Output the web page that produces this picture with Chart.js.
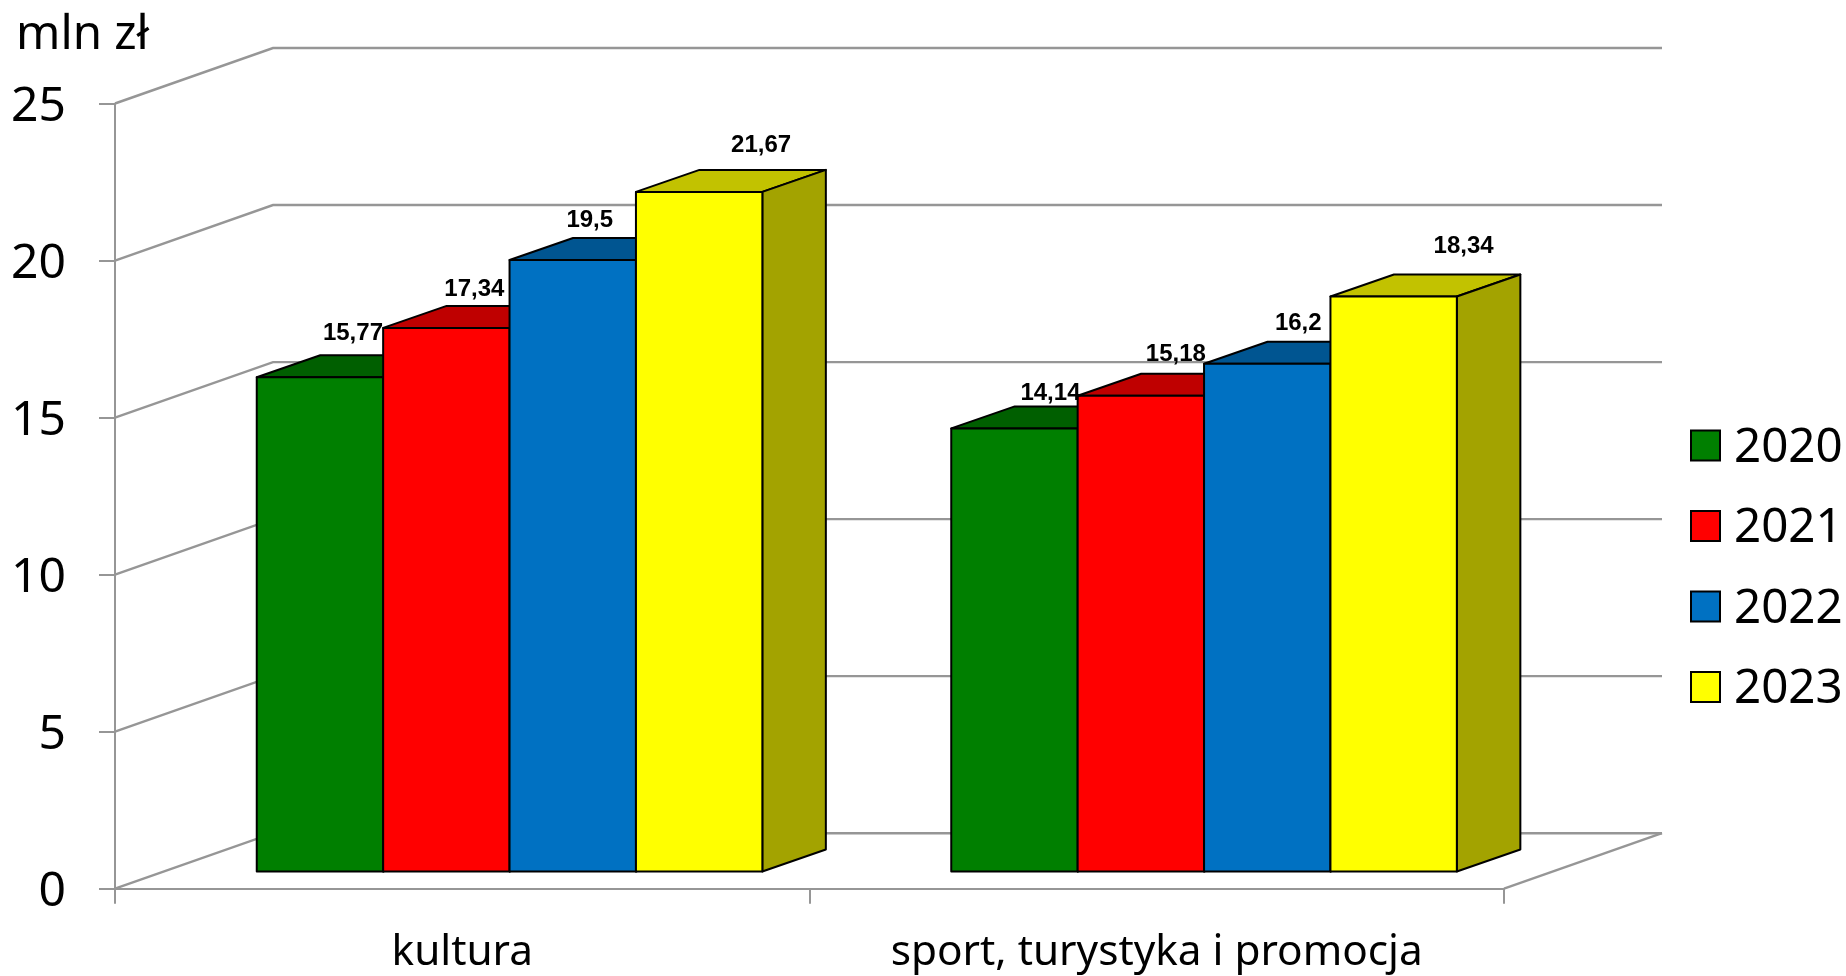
<!DOCTYPE html>
<html><head><meta charset="utf-8">
<style>html,body{margin:0;padding:0;background:#fff}canvas{display:block}</style>
<script src="https://cdn.jsdelivr.net/npm/chart.js@4"></script>
</head><body>
<canvas id="c" width="1846" height="976"></canvas>
<script>
const categories = ["kultura", "sport, turystyka i promocja"];
const years = ["2020", "2021", "2022", "2023"];
const values2020 = [15.77, 14.14];
const values2021 = [17.34, 15.18];
const values2022 = [19.5, 16.2];
const values2023 = [21.67, 18.34];
const unitLabel = "mln zł";

const frontColors = ["#007f00", "#ff0000", "#0071c2", "#ffff00"];
const topColors = ["#005f00", "#bf0000", "#005591", "#c2c200"];
const sideColors = ["#005000", "#a30000", "#004880", "#a3a300"];
// label offset from the bar's front-top centre, in pixels
const labelNudge = [
  [[33, -37], [36, -28]],
  [[28, -32], [35, -35]],
  [[17, -33], [31, -34]],
  [[62, -40], [70, -43]]
];

const GRID = "#969696";
const FONT = '"Noto Sans"';
const WALL = {dx: 158, dy: 55.5};      // depth of the whole floor
const BAR = {dx: 63.5, dy: 22};        // depth of one bar
const SHIFT = {x: 47.3, y: 16.2};      // bars stand in from the front edge of the floor

function poly(ctx, pts, fill) {
  ctx.beginPath();
  pts.forEach((p, i) => i ? ctx.lineTo(p[0], p[1]) : ctx.moveTo(p[0], p[1]));
  ctx.closePath();
  ctx.fillStyle = fill;
  ctx.fill();
  ctx.stroke();
}

const chart3d = {
  id: "chart3d",
  beforeDatasetsDraw(chart) {
    const {ctx, scales: {x, y}} = chart;
    // walls
    ctx.save();
    ctx.strokeStyle = GRID;
    ctx.lineWidth = 2.4;
    y.ticks.forEach(t => {
      const py = y.getPixelForValue(t.value);
      ctx.beginPath();
      ctx.moveTo(x.left, py);
      ctx.lineTo(x.left + WALL.dx, py - WALL.dy);
      ctx.lineTo(x.right + WALL.dx, py - WALL.dy);
      ctx.stroke();
    });
    ctx.beginPath();
    ctx.moveTo(x.right, y.bottom);
    ctx.lineTo(x.right + WALL.dx, y.bottom - WALL.dy);
    ctx.stroke();
    ctx.restore();
    // bars, left to right so each front covers its neighbour's depth
    ctx.save();
    ctx.translate(SHIFT.x, -SHIFT.y);
    ctx.lineJoin = "round";
    chart.data.datasets.forEach((ds, i) => {
      chart.getDatasetMeta(i).data.forEach(el => {
        const l = el.x - el.width / 2, r = el.x + el.width / 2, t = el.y, b = el.base;
        ctx.strokeStyle = "#000";
        ctx.lineWidth = 2;
        poly(ctx, [[l, t], [r, t], [r + BAR.dx, t - BAR.dy], [l + BAR.dx, t - BAR.dy]], topColors[i]);
        poly(ctx, [[r, t], [r + BAR.dx, t - BAR.dy], [r + BAR.dx, b - BAR.dy], [r, b]], sideColors[i]);
        el.draw(ctx);
        ctx.strokeRect(l, t, r - l, b - t);
      });
    });
    ctx.restore();
    return false;
  },
  afterDraw(chart) {
    const {ctx} = chart;
    ctx.save();
    // value labels
    ctx.font = 'bold 24px "Liberation Sans"';
    ctx.fillStyle = "#000";
    ctx.textAlign = "center";
    ctx.textBaseline = "alphabetic";
    chart.data.datasets.forEach((ds, i) => {
      chart.getDatasetMeta(i).data.forEach((el, j) => {
        const n = labelNudge[i][j];
        ctx.fillText(String(ds.data[j]).replace(".", ","), el.x + SHIFT.x + n[0], el.y - SHIFT.y + n[1]);
      });
    });
    // unit
    ctx.textAlign = "left";
    ctx.font = "47.5px " + FONT;
    ctx.fillText(unitLabel, 16, 49);
    // legend
    years.forEach((yr, i) => {
      const top = 430.5 + i * 80.5;
      ctx.fillStyle = frontColors[i];
      ctx.strokeStyle = "#000";
      ctx.lineWidth = 2;
      ctx.fillRect(1691, top, 29, 30);
      ctx.strokeRect(1691, top, 29, 30);
      ctx.fillStyle = "#000";
      ctx.fillText(yr, 1734, top + 31);
    });
    ctx.restore();
  }
};

const seriesValues = [values2020, values2021, values2022, values2023];
new Chart(document.getElementById("c"), {
  type: "bar",
  data: {
    labels: categories,
    datasets: years.map((yr, i) => ({
      label: yr,
      data: seriesValues[i],
      backgroundColor: frontColors[i],
      borderWidth: 0
    }))
  },
  plugins: [chart3d],
  options: {
    responsive: false,
    animation: false,
    devicePixelRatio: 1,
    layout: {padding: {left: 0, top: 103.5, right: 342, bottom: 0}},
    plugins: {legend: {display: false}, tooltip: {enabled: false}, title: {display: false}},
    datasets: {bar: {categoryPercentage: 0.728, barPercentage: 1}},
    scales: {
      x: {
        afterFit(s) { s.height = 87.3; },
        grid: {drawOnChartArea: false, color: GRID, lineWidth: 2, tickLength: 15, offset: true},
        border: {color: GRID, width: 2},
        ticks: {color: "#000", font: {family: FONT, size: 42.3}, padding: 24, maxRotation: 0, autoSkip: false}
      },
      y: {
        min: 0, max: 25,
        afterFit(s) { s.width = 115; },
        grid: {drawOnChartArea: false, color: GRID, lineWidth: 2, tickLength: 16},
        border: {color: GRID, width: 2},
        ticks: {stepSize: 5, color: "#000", font: {family: FONT, size: 48}, padding: 33, labelOffset: 4}
      }
    }
  }
});
</script>
</body></html>
